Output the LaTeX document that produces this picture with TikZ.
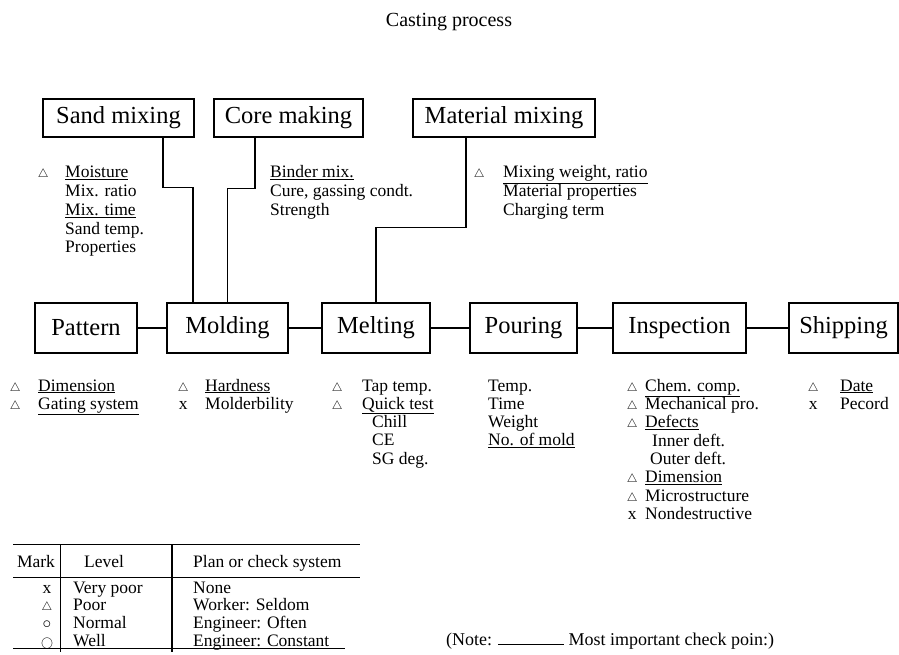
\documentclass[tikz,border=0pt]{standalone}
\usepackage{fontspec}
\setmainfont{Liberation Serif}
\usetikzlibrary{positioning}

\newlength\mkgap
\setlength\mkgap{22pt}
\newcommand\mk[1]{\llap{\makebox[0pt]{#1}\hspace{\mkgap}}}
\newcommand\tri{\mk{$\scriptstyle\triangle$}}
\newcommand\cross{\mk{x}}
\newcommand\imp[1]{\underline{#1}}
\newcommand\items[1]{\begin{tabular}[t]{@{}l@{}}#1\end{tabular}}

\tikzset{
  stage/.style={draw, line width=1.1pt, minimum height=50pt, inner sep=0pt,
    font=\fontsize{24.5}{28}\selectfont},
  feed/.style={draw, line width=1.1pt, minimum height=38pt, inner sep=0pt,
    font=\fontsize{24.5}{28}\selectfont},
  checks/.style={anchor=base west, inner sep=0pt,
    font=\fontsize{17.5}{#1}\selectfont},
  checks/.default=18.3,
  gap/.style={execute at begin node={\setlength\mkgap{#1}}},
  legend/.style={inner sep=0pt, font=\fontsize{17.5}{18}\selectfont},
  link/.style={line width=1.1pt},
}

\begin{document}
\begin{tikzpicture}[x=1pt, y=-1pt]
    \useasboundingbox (0,0) rectangle (899,655);

    \node[font=\fontsize{20}{24}\selectfont] (title) at (449,22) {Casting process};

    % feeding processes
    \node[feed, minimum width=151pt] (sand) at (118.5,118) {Sand mixing};
    \node[feed, minimum width=149pt] (core) at (288.5,118) {Core making};
    \node[feed, minimum width=182pt] (material) at (504,118) {Material mixing};

    % main line
    \node[stage, minimum width=102pt] (pattern) at (86,328) {Pattern};
    \node[stage, minimum width=121pt] (molding) at (227.5,328) {Molding};
    \node[stage, minimum width=108pt] (melting) at (376,328) {Melting};
    \node[stage, minimum width=107pt] (pouring) at (523.5,328) {Pouring};
    \node[stage, minimum width=133pt] (inspection) at (679.5,328) {Inspection};
    \node[stage, minimum width=109pt] (shipping) at (843.5,328) {Shipping};

    \path[link] (pattern) edge (molding);
    \path[link] (molding) edge (melting);
    \path[link] (melting) edge (pouring);
    \path[link] (pouring) edge (inspection);
    \path[link] (inspection) edge (shipping);

    \draw[link] ([xshift=44.5pt]sand.south) -- ++(0,50) -| ([xshift=-34.5pt]molding.north);
    \draw[link] ([xshift=-33.5pt]core.south) -- ++(0,51) -| (molding.north);
    \draw[link] ([xshift=-38pt]material.south) -- ++(0,90) -| (melting.north);

    % check points
    \node[checks=18.7] (sandlist) at (65,178)
        {\items{\tri\imp{Moisture}\\ Mix. ratio\\ \imp{Mix. time}\\ Sand temp.\\ Properties}};
    \node[checks=18.7] (corelist) at (270,178)
        {\items{\imp{Binder mix.}\\ Cure, gassing condt.\\ Strength}};
    \node[checks=18.7, gap=24pt] (materiallist) at (503,178)
        {\items{\tri\imp{Mixing weight, ratio}\\ Material properties\\ Charging term}};

    \node[checks, gap=23pt] (patternlist) at (38,391)
        {\items{\tri\imp{Dimension}\\ \tri\imp{Gating system}}};
    \node[checks] (moldinglist) at (205,391)
        {\items{\tri\imp{Hardness}\\ \cross Molderbility}};
    \node[checks, gap=25pt] (meltinglist) at (362,391)
        {\items{\tri Tap temp.\\ \tri\imp{Quick test}\\ \hspace{10pt}Chill\\ \hspace{10pt}CE\\ \hspace{10pt}SG deg.}};
    \node[checks] (pouringlist) at (488,391)
        {\items{Temp.\\ Time\\ Weight\\ \imp{No. of mold}}};
    \node[checks, gap=13pt] (inspectionlist) at (645,391)
        {\items{\tri\imp{Chem. comp.}\\ \tri Mechanical pro.\\ \tri\imp{Defects}\\ \hspace{7pt}Inner deft.\\ \hspace{5pt}Outer deft.\\ \tri\imp{Dimension}\\ \tri Microstructure\\ \cross Nondestructive}};
    \node[checks, gap=27pt] (shippinglist) at (840,391)
        {\items{\tri\imp{Date}\\ \cross Pecord}};

    % legend
    \draw[line width=1pt] (13,544) -- (360,544);
    \draw[line width=0.8pt] (13,577) -- (360,577);
    \draw[line width=1pt] (13,648) -- (345,648);
    \draw[line width=0.8pt] (60,544) -- (60,652);
    \draw[line width=1.2pt] (172,544) -- (172,652);

    \node[legend, anchor=base] (markhead) at (36,567) {Mark};
    \node[legend, anchor=base] (levelhead) at (104,567) {Level};
    \node[legend, anchor=base west] (planhead) at (193,567) {Plan or check system};

    \node[legend, anchor=base] (m1) at (47,593) {x};
    \node[legend, anchor=base] (m2) at (47,610.7) {$\scriptstyle\triangle$};
    \node[legend, anchor=base] (m3) at (47,628.4) {$\circ$};
    \node[legend, anchor=base] (m4) at (47,646) {$\scriptstyle\bigcirc$};

    \node[legend, anchor=base west] (l1) at (73,593) {Very poor};
    \node[legend, anchor=base west] (l2) at (73,610.7) {Poor};
    \node[legend, anchor=base west] (l3) at (73,628.4) {Normal};
    \node[legend, anchor=base west] (l4) at (73,646) {Well};

    \node[legend, anchor=base west] (p1) at (193,593) {None};
    \node[legend, anchor=base west] (p2) at (193,610.7) {Worker: Seldom};
    \node[legend, anchor=base west] (p3) at (193,628.4) {Engineer: Often};
    \node[legend, anchor=base west] (p4) at (193,646) {Engineer: Constant};

    \node[legend, anchor=base west, font=\fontsize{18}{20}\selectfont] (note) at (446,645)
        {(Note: \rule{66pt}{0.8pt} Most important check poin:)};
\end{tikzpicture}
\end{document}
